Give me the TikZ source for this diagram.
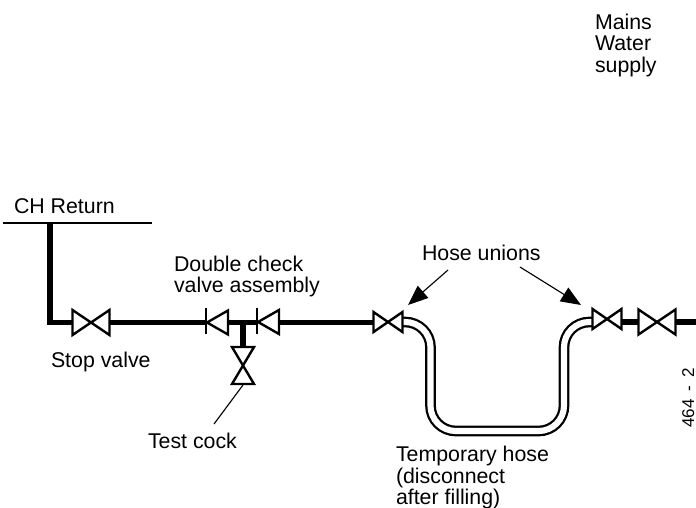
\documentclass[tikz,border=0pt]{standalone}
\usepackage{fontspec}
\setmainfont{Liberation Sans}
\usetikzlibrary{arrows.meta}
\tikzset{
  px/.style={x=0.75pt,y=-0.75pt},
  pipe/.style={line width=4.2pt,line cap=butt,line join=miter},
  stem/.style={line width=4.8pt},
  valve/.style={draw,line width=1.8pt,fill=white,line join=miter},
  thin line/.style={line width=0.85pt},
  leader/.style={line width=0.85pt,-{Stealth[length=15pt,width=12pt,inset=0pt]}},
  label/.style={anchor=base west,inner sep=0pt,outer sep=0pt,font=\fontsize{16pt}{16pt}\selectfont},
  hose/.style={line width=1.6pt,rounded corners=19pt},
}
\newcommand{\bowvalve}[4]{% cx, cy, half width, half height
  \path[valve] (#1-#3,#2-#4) -- (#1+#3,#2+#4) -- (#1+#3,#2-#4) -- (#1-#3,#2+#4) -- cycle;}
\newcommand{\vbowvalve}[4]{%
  \path[valve] (#1-#3,#2-#4) -- (#1+#3,#2+#4) -- (#1-#3,#2+#4) -- (#1+#3,#2-#4) -- cycle;}
\newcommand{\checkvalve}[2]{% bar x, cy
  \path[valve] (#1+22,#2-12) -- (#1+1,#2) -- (#1+22,#2+12) -- cycle;
  \draw[line width=1.9pt] (#1,#2-14.5) -- (#1,#2+11.5);}
\begin{document}
\begin{tikzpicture}[px]
\useasboundingbox (0,0) rectangle (696,507);
% labels
\node[label] (mains1) at (595,29) {Mains};
\node[label] (mains2) at (595,50) {Water};
\node[label] (mains3) at (595,72) {supply};
\node[label] (chret) at (14,213) {CH Return};
\node[label] (dbl1) at (174,271) {Double check};
\node[label] (dbl2) at (174,292) {valve assembly};
\node[label] (hoseu) at (422,260) {Hose unions};
\node[label] (stopv) at (51,367) {Stop valve};
\node[label] (testc) at (148,448) {Test cock};
\node[label] (tmp1) at (396,461) {Temporary hose};
\node[label] (tmp2) at (396,483) {(disconnect};
\node[label] (tmp3) at (396,504) {after filling)};
\node[anchor=base west,inner sep=0pt,rotate=90,font=\fontsize{12.8pt}{14pt}\selectfont] (code) at (694,428) {464\hspace{6pt}-\hspace{6pt}2};
% coordinates
\coordinate (retL) at (3,223);
\coordinate (retR) at (152,223);
\coordinate (retJ) at (50,223);
\coordinate (corner) at (50,322.5);
\coordinate (stopL) at (72,322.5);
\coordinate (stopR) at (110,322.5);
\coordinate (chk1L) at (206,322.5);
\coordinate (chk1R) at (228,322.5);
\coordinate (chk2L) at (257,322.5);
\coordinate (chk2R) at (278,322.5);
\coordinate (tee) at (243,322.5);
\coordinate (cockT) at (243,347);
\coordinate (cockB) at (243,385);
\coordinate (testEnd) at (214,424);
\coordinate (un1L) at (373,322.5);
\coordinate (un1R) at (403,322);
\coordinate (un2L) at (592,322);
\coordinate (un2R) at (622,322);
\coordinate (v3L) at (638,322);
\coordinate (v3R) at (676,322);
\coordinate (edge) at (696,322);
\coordinate (h1) at (430.5,322);
\coordinate (h2) at (430.5,431);
\coordinate (h3) at (564,431);
\coordinate (h4) at (564,322);
\coordinate (ar1s) at (448,270);
\coordinate (ar1e) at (408,305);
\coordinate (ar2s) at (520,267);
\coordinate (ar2e) at (581,305);
% lines
\draw[thin line] (retL) -- (retR);
\draw[pipe] (retJ) -- (corner) -- (stopL);
\draw[pipe] (stopR) -- (chk1L);
\draw[pipe] (chk1R) -- (chk2L);
\draw[pipe] (chk2R) -- (un1L);
\draw[pipe] (un2R) -- (v3L);
\draw[pipe] (v3R) -- (edge);
\draw[stem] (tee) -- (cockT);
% hose
\draw[hose,line width=8pt] (un1R) -- (h1) -- (h2) -- (h3) -- (h4) -- (un2L);
\draw[hose,line width=4.6pt,white] (un1R) -- (h1) -- (h2) -- (h3) -- (h4) -- (un2L);
% valves
\bowvalve{91}{322.5}{18.5}{12.5}
\checkvalve{206}{322.5}
\checkvalve{257}{322}
\vbowvalve{243}{365.5}{11}{18.5}
\bowvalve{388}{322}{14.5}{10}
\bowvalve{607}{319}{14.5}{10}
\bowvalve{657}{322}{18.5}{12.5}
% leaders
\draw[thin line] (cockB) -- (testEnd);
\draw[leader] (ar1s) -- (ar1e);
\draw[leader] (ar2s) -- (ar2e);
\end{tikzpicture}
\end{document}
